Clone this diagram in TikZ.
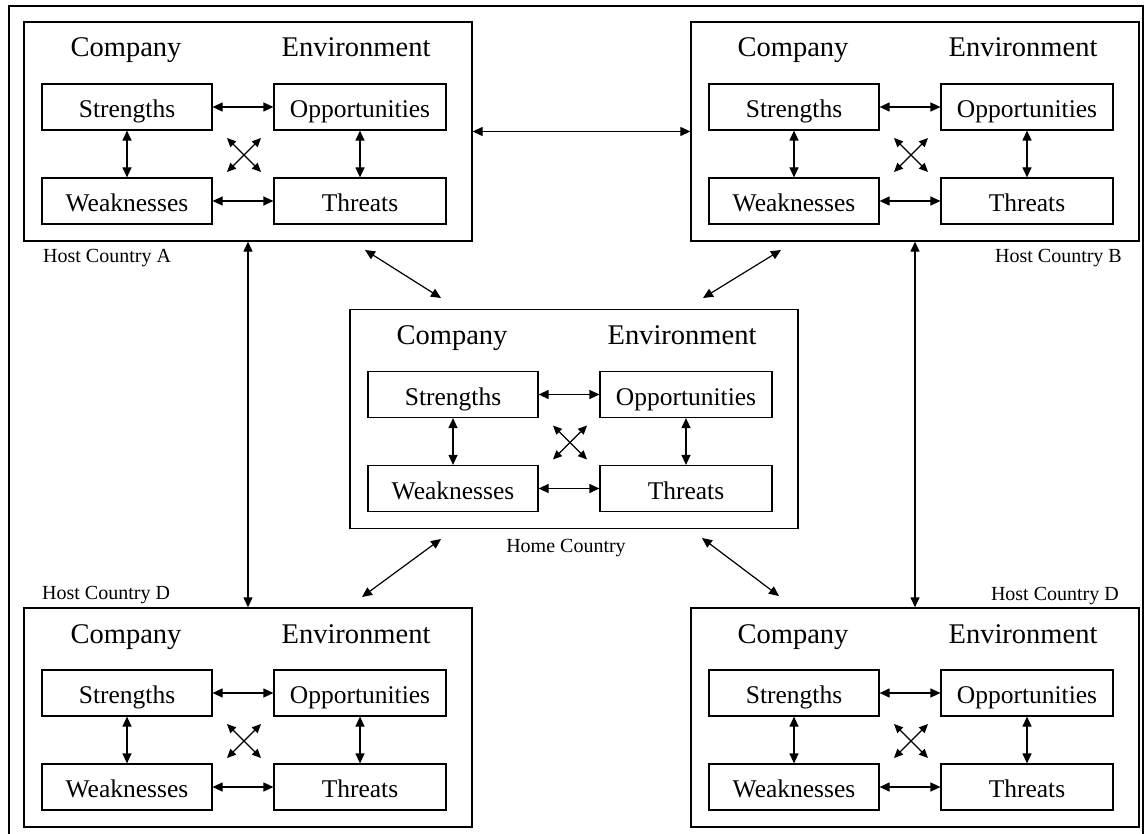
\documentclass[tikz,border=0pt]{standalone}
\usepackage{fontspec}
\setmainfont{Liberation Serif}
\usetikzlibrary{arrows.meta,calc}
\tikzset{
  swotbox/.style={draw, line width=1.2pt, minimum width=170pt, minimum height=46pt,
    inner sep=0pt, text height=23pt, text depth=2pt, font=\fontsize{25.5}{30}\selectfont},
  panelbox/.style={draw, line width=1.3pt, minimum width=448pt, minimum height=219pt, inner sep=0pt},
  heading/.style={font=\fontsize{28.5}{33}\selectfont, anchor=base, inner sep=0pt},
  caption/.style={font=\fontsize{20}{24}\selectfont, inner sep=0pt},
  link/.style={line width=1.2pt, {Triangle[length=10pt,width=9pt]}-{Triangle[length=10pt,width=9pt]}},
  smalllink/.style={line width=1.1pt, {Triangle[length=9pt,width=8pt]}-{Triangle[length=9pt,width=8pt]}},
  % one SWOT panel, placed by its top-left corner
  pics/swot/.style={code={
    \node[panelbox] (-box) at (224,109.5) {};
    \node[heading] (-co) at (102,35) {Company};
    \node[heading] (-en) at (332,35) {Environment};
    \node[swotbox] (-s) at (103,85) {Strengths};
    \node[swotbox, minimum width=172pt] (-o) at (336,85) {Opportunities};
    \node[swotbox] (-w) at (103,179) {Weaknesses};
    \node[swotbox, minimum width=172pt] (-t) at (336,179) {Threats};
    \draw[link] (-s) -- (-o);
    \draw[link] (-w) -- (-t);
    \draw[link] (-s) -- (-w);
    \draw[link] (-o) -- (-t);
    \coordinate (-x1) at (203,116);
    \coordinate (-x2) at (237,150);
    \coordinate (-x3) at (237,116);
    \coordinate (-x4) at (203,150);
    \draw[smalllink] (-x1) -- (-x2);
    \draw[smalllink] (-x3) -- (-x4);
  }}
}
\begin{document}
\begin{tikzpicture}[x=1pt, y=-1pt]
  \clip (0,0) rectangle (1146,834);
  \fill[white] (0,0) rectangle (1146,834);
  % outer frame
  \draw[line width=1.8pt] (9,6) rectangle (1143,850);

  % panels
  \pic (A) at (24,22) {swot};
  \pic (B) at (691,22) {swot};
  \pic (H) at (350,309.5) {swot};
  \pic (D) at (24,608) {swot};
  \pic (E) at (691,608) {swot};

  % captions
  \node[caption, anchor=base west] (la) at (43,263) {Host Country A};
  \node[caption, anchor=base east] (lb) at (1122,263) {Host Country B};
  \node[caption, anchor=base] (lh) at (566,552) {Home Country};
  \node[caption, anchor=base west] (ld) at (42,599) {Host Country D};
  \node[caption, anchor=base east] (le) at (1119,600) {Host Country D};

  % links between countries
  \draw[link] (A-box) -- (B-box);
  \draw[link] (A-box) -- (D-box);
  \draw[link] (B-box) -- (E-box);

  \coordinate (ah1) at (365,250);
  \coordinate (ah2) at (441,298);
  \coordinate (bh1) at (781,250);
  \coordinate (bh2) at (703,298);
  \coordinate (dh1) at (362,597);
  \coordinate (dh2) at (441,539);
  \coordinate (eh1) at (779,596);
  \coordinate (eh2) at (702,538);
  \draw[link] (ah1) -- (ah2);
  \draw[link] (bh1) -- (bh2);
  \draw[link] (dh1) -- (dh2);
  \draw[link] (eh1) -- (eh2);
\end{tikzpicture}
\end{document}
